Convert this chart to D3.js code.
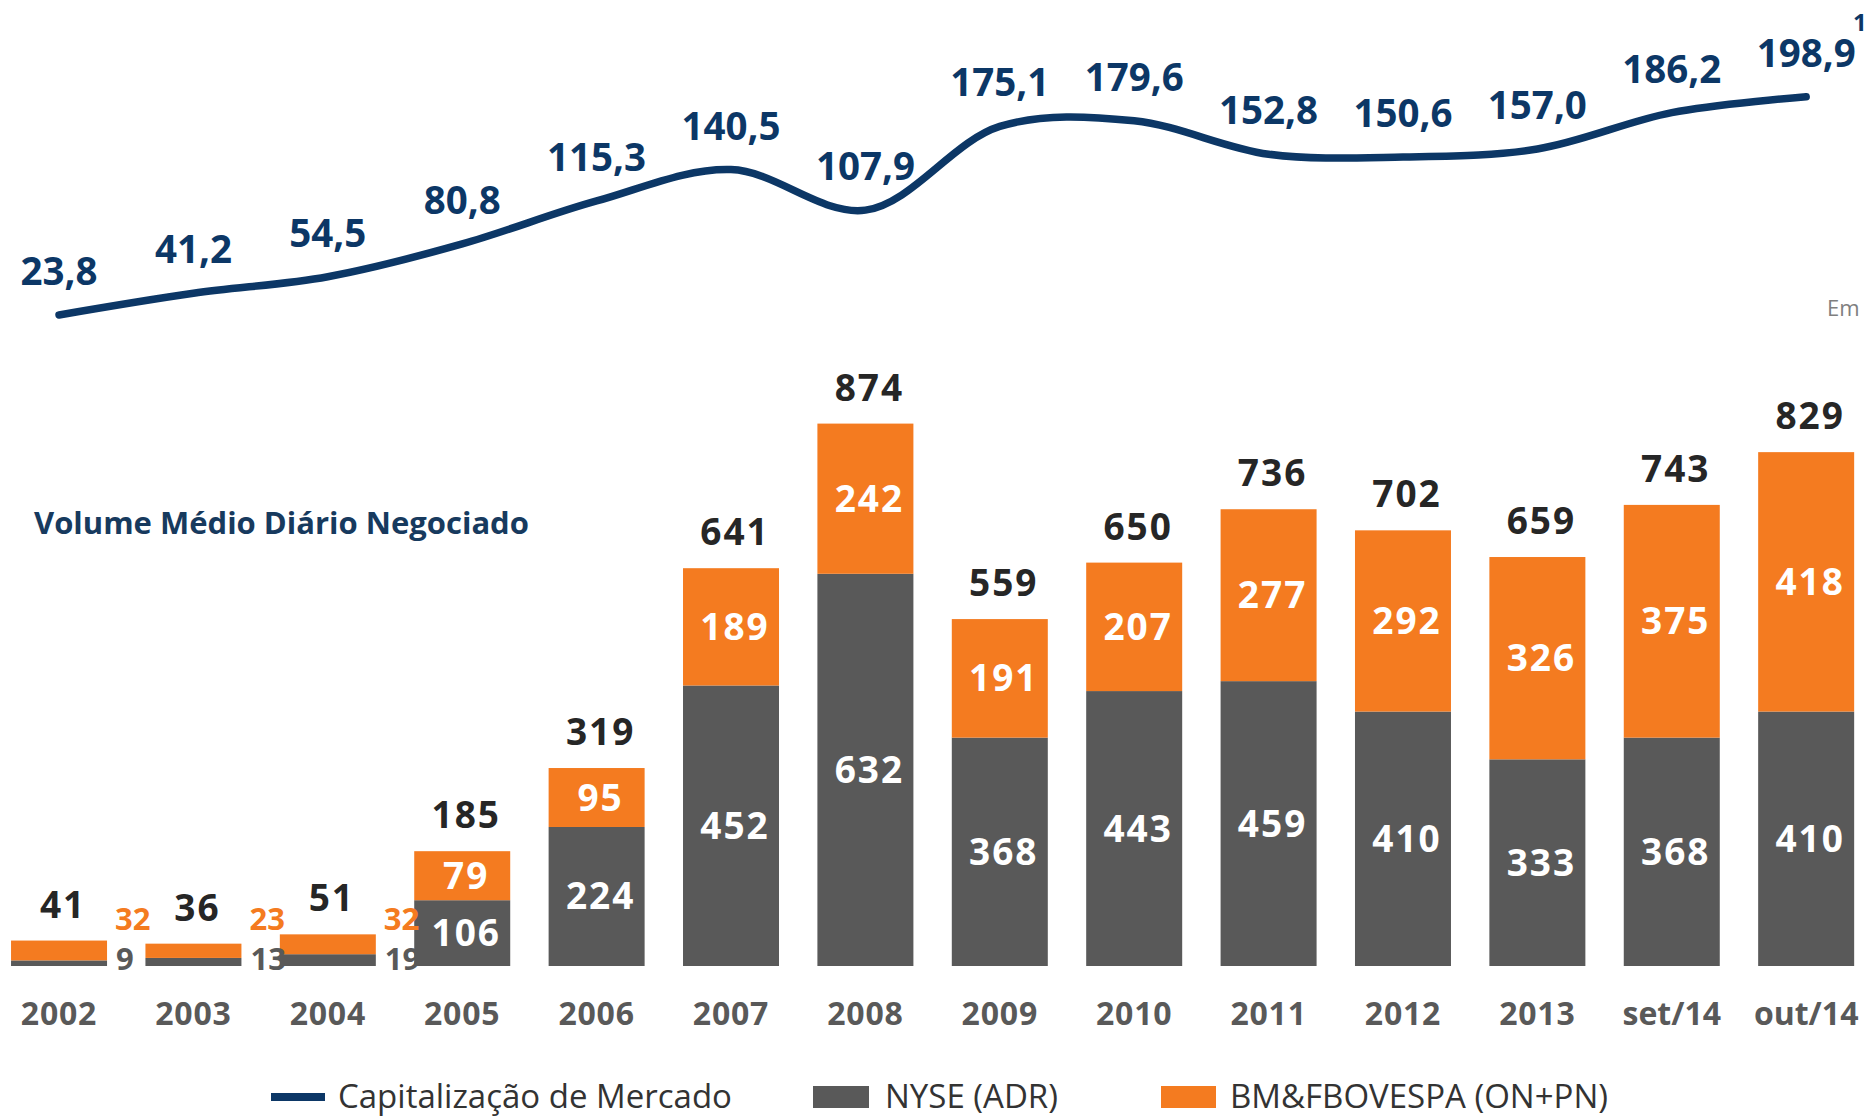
<!DOCTYPE html>
<html>
<head>
<meta charset="utf-8">
<script src="https://cdn.jsdelivr.net/npm/d3@7"></script>
<style>
  html, body { margin: 0; padding: 0; background: #ffffff; }
  svg { display: block; font-family: "Open Sans", "Noto Sans", sans-serif; }
</style>
</head>
<body>
<svg id="chart" width="1866" height="1117"></svg>
<script>
// ---- Data ----
const categories = ["2002","2003","2004","2005","2006","2007","2008","2009","2010","2011","2012","2013","set/14","out/14"];
const nyseValues = [9, 13, 19, 106, 224, 452, 632, 368, 443, 459, 410, 333, 368, 410];
const bmfValues  = [32, 23, 32, 79, 95, 189, 242, 191, 207, 277, 292, 326, 375, 418];
const totalValues = [41, 36, 51, 185, 319, 641, 874, 559, 650, 736, 702, 659, 743, 829];
const marketCap = [23.8, 41.2, 54.5, 80.8, 115.3, 140.5, 107.9, 175.1, 179.6, 152.8, 150.6, 157.0, 186.2, 198.9];
const legendLabels = ["Capitalização de Mercado", "NYSE (ADR)", "BM&FBOVESPA (ON+PN)"];
const chartTitle = "Volume Médio Diário Negociado";
const unitNote = "Em";
const footMark = "1";

// ---- Styles ----
const C_NAVY = "#0c3766";
const C_TITLE = "#173a5e";
const C_GREY = "#595959";
const C_ORANGE = "#f47b20";
const C_TOTAL = "#262626";

const svg = d3.select("#chart");

const x = d3.scaleBand().domain(categories).range([-2.4, 1867.6]).paddingInner(0.2857).paddingOuter(0.1);
const yBar = d3.scaleLinear().domain([0, 900]).range([966, 966 - 0.6206 * 900]);
const yLine = d3.scaleLinear().domain([0, 200]).range([344.6, 95.4]);
const cx = c => x(c) + x.bandwidth() / 2;

const rows = categories.map((c, i) => ({ c, nyse: nyseValues[i], bmf: bmfValues[i], total: totalValues[i], cap: marketCap[i], i }));
const small = d => d.total < 100;

// ---- Bars ----
const g = svg.append("g");
g.selectAll("rect.nyse").data(rows).join("rect")
  .attr("x", d => x(d.c)).attr("width", x.bandwidth())
  .attr("y", d => yBar(d.nyse)).attr("height", d => yBar(0) - yBar(d.nyse))
  .attr("fill", C_GREY);
g.selectAll("rect.bmf").data(rows).join("rect")
  .attr("x", d => x(d.c)).attr("width", x.bandwidth())
  .attr("y", d => yBar(d.nyse + d.bmf)).attr("height", d => yBar(d.nyse) - yBar(d.nyse + d.bmf))
  .attr("fill", C_ORANGE);

// inner labels (large bars)
g.selectAll("text.in-nyse").data(rows.filter(d => !small(d))).join("text")
  .attr("x", d => cx(d.c) + 4).attr("y", d => (yBar(0) + yBar(d.nyse)) / 2 + 13)
  .attr("text-anchor", "middle").attr("font-size", 37).attr("font-weight", 700).attr("fill", "#ffffff")
  .attr("letter-spacing", 2)
  .text(d => d.nyse);
g.selectAll("text.in-bmf").data(rows.filter(d => !small(d))).join("text")
  .attr("x", d => cx(d.c) + 4).attr("y", d => (yBar(d.nyse) + yBar(d.nyse + d.bmf)) / 2 + 13)
  .attr("text-anchor", "middle").attr("font-size", 37).attr("font-weight", 700).attr("fill", "#ffffff")
  .attr("letter-spacing", 2)
  .text(d => d.bmf);

// outside labels (small bars)
g.selectAll("text.out-bmf").data(rows.filter(small)).join("text")
  .attr("x", d => x(d.c) + x.bandwidth() + 8).attr("y", yBar(0) - 36)
  .attr("font-size", 31).attr("font-weight", 700).attr("fill", C_ORANGE)
  .text(d => d.bmf);
g.selectAll("text.out-nyse").data(rows.filter(small)).join("text")
  .attr("x", d => x(d.c) + x.bandwidth() + 9).attr("y", yBar(0) + 4)
  .attr("font-size", 31).attr("font-weight", 700).attr("fill", C_GREY)
  .text(d => d.nyse);

// totals
g.selectAll("text.total").data(rows).join("text")
  .attr("x", d => cx(d.c) + 4).attr("y", d => yBar(d.nyse + d.bmf) - 23)
  .attr("text-anchor", "middle").attr("font-size", 37).attr("font-weight", 700).attr("fill", C_TOTAL)
  .attr("letter-spacing", 2)
  .text(d => d.total);

// category labels
g.selectAll("text.cat").data(rows).join("text")
  .attr("x", d => cx(d.c)).attr("y", 1025)
  .attr("text-anchor", "middle").attr("font-size", 32).attr("font-weight", 700).attr("fill", C_GREY)
  .attr("letter-spacing", d => /^\d+$/.test(d.c) ? 0.8 : 0)
  .text(d => d.c);

// ---- Line ----
const fmt = v => d3.format(".1f")(v).replace(".", ",");
const line = d3.line().x(d => cx(d.c)).y(d => yLine(d.cap)).curve(d3.curveCatmullRom.alpha(0.5));
svg.append("path").datum(rows).attr("d", line)
  .attr("fill", "none").attr("stroke", C_NAVY).attr("stroke-width", 7.5)
  .attr("stroke-linecap", "round").attr("stroke-linejoin", "round");
svg.selectAll("text.cap").data(rows).join("text")
  .attr("x", d => cx(d.c)).attr("y", d => yLine(d.cap) - 30)
  .attr("text-anchor", "middle").attr("font-size", 38.5).attr("font-weight", 700).attr("fill", C_NAVY)
  .text(d => fmt(d.cap));

svg.append("text").attr("x", 1853).attr("y", 31).attr("font-size", 24).attr("font-weight", 700)
  .attr("fill", C_NAVY).text(footMark);
svg.append("text").attr("x", 1827).attr("y", 316).attr("font-size", 22).attr("fill", "#7f7f7f").text(unitNote);

// ---- Title ----
svg.append("text").attr("x", 34).attr("y", 534).attr("font-size", 31).attr("font-weight", 700)
  .attr("fill", C_TITLE).text(chartTitle);

// ---- Legend ----
const legendX = [271, 813, 1161];
const lg = svg.append("g");
lg.append("rect").attr("x", legendX[0]).attr("y", 1093).attr("width", 54).attr("height", 8).attr("fill", C_NAVY);
lg.append("rect").attr("x", legendX[1]).attr("y", 1086).attr("width", 56).attr("height", 22).attr("fill", C_GREY);
lg.append("rect").attr("x", legendX[2]).attr("y", 1086).attr("width", 55).attr("height", 22).attr("fill", C_ORANGE);
lg.selectAll("text").data(legendLabels).join("text")
  .attr("x", (d, i) => [338, 885, 1230][i]).attr("y", 1108)
  .attr("font-size", 33).attr("fill", "#333333")
  .text(d => d);
</script>
</body>
</html>
